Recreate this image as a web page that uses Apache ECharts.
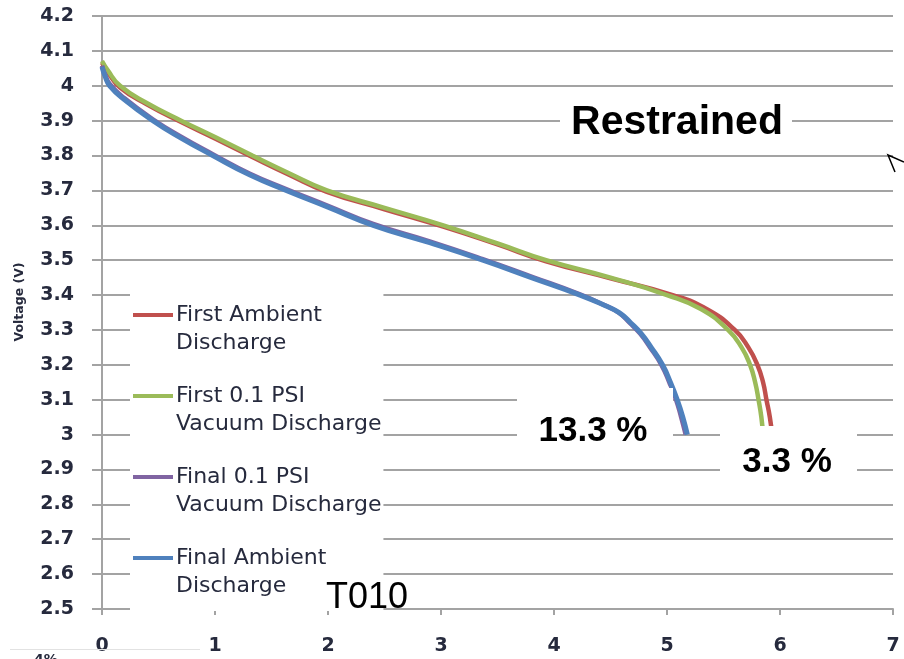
<!DOCTYPE html>
<html>
<head>
<meta charset="utf-8">
<title>Restrained discharge</title>
<script src="https://cdn.jsdelivr.net/npm/echarts@6/dist/echarts.min.js"></script>
<style>
  html, body { margin: 0; padding: 0; background: #fff; }
  #chart { width: 904px; height: 659px; }
</style>
</head>
<body>
<div id="chart"></div>
<script>
// Capacity (x) and cell voltage (V) for each discharge run
const firstAmbientX = [0, 0.05, 0.16, 0.4, 0.7, 1.0, 1.33, 1.65, 1.99, 2.5, 3.02, 3.5, 3.93, 4.5, 5.05, 5.35, 5.60, 5.72, 5.80, 5.85, 5.88, 5.91, 5.93];
const firstAmbientV = [4.066, 4.04, 3.995, 3.946, 3.896, 3.849, 3.796, 3.746, 3.696, 3.646, 3.596, 3.545, 3.497, 3.448, 3.40, 3.36, 3.30, 3.25, 3.20, 3.15, 3.10, 3.05, 3.00];

const firstVacuumX = [0, 0.05, 0.16, 0.4, 0.7, 1.0, 1.33, 1.65, 1.99, 2.5, 3.02, 3.5, 3.93, 4.5, 5.0, 5.3, 5.54, 5.66, 5.735, 5.78, 5.81, 5.835, 5.85];
const firstVacuumV = [4.071, 4.045, 4.0, 3.95, 3.9, 3.853, 3.80, 3.75, 3.70, 3.65, 3.60, 3.548, 3.50, 3.45, 3.40, 3.36, 3.30, 3.25, 3.20, 3.15, 3.10, 3.05, 3.00];

const finalVacuumX = [0, 0.03, 0.068, 0.2, 0.45, 0.7, 0.98, 1.31, 1.63, 2.0, 2.40, 2.9, 3.37, 3.8, 4.23, 4.44, 4.57, 4.67, 4.76, 4.85, 4.95, 5.02, 5.08, 5.125, 5.165];
const finalVacuumV = [4.058, 4.03, 4.005, 3.964, 3.904, 3.854, 3.804, 3.748, 3.704, 3.656, 3.604, 3.554, 3.503, 3.453, 3.402, 3.372, 3.35, 3.32, 3.29, 3.25, 3.20, 3.15, 3.10, 3.05, 3.00];

const finalAmbientX = [0, 0.03, 0.068, 0.2, 0.45, 0.7, 0.98, 1.31, 1.63, 2.0, 2.40, 2.9, 3.37, 3.8, 4.23, 4.45, 4.58, 4.68, 4.77, 4.86, 4.96, 5.03, 5.09, 5.14, 5.18];
const finalAmbientV = [4.054, 4.025, 4.0, 3.96, 3.90, 3.85, 3.80, 3.744, 3.70, 3.652, 3.60, 3.55, 3.50, 3.45, 3.40, 3.37, 3.349, 3.32, 3.29, 3.25, 3.20, 3.15, 3.10, 3.05, 3.00];

const seriesNames = [
  'First Ambient\nDischarge',
  'First 0.1 PSI\nVacuum Discharge',
  'Final 0.1 PSI\nVacuum Discharge',
  'Final Ambient\nDischarge'
];
const seriesColors = ['#C0504D', '#9BBB59', '#8064A2', '#4F81BD'];

const voltageTicks = ['2.5', '2.6', '2.7', '2.8', '2.9', '3', '3.1', '3.2', '3.3', '3.4', '3.5', '3.6', '3.7', '3.8', '3.9', '4', '4.1', '4.2'];
const capacityTicks = ['0', '1', '2', '3', '4', '5', '6', '7'];

const lossLabels = ['13.3 %', '3.3 %'];

function pairs(xs, ys) {
  return xs.map((x, i) => [x, ys[i]]);
}

const runs = [
  pairs(firstAmbientX, firstAmbientV),
  pairs(firstVacuumX, firstVacuumV),
  pairs(finalVacuumX, finalVacuumV),
  pairs(finalAmbientX, finalAmbientV)
];

const gridColor = '#a3a3a3';
const labelColor = '#262a3d';
const tickFont = 'DejaVu Sans';
const noteFont = '"Liberation Sans", Arial, sans-serif';

const chart = echarts.init(document.getElementById('chart'), null, { renderer: 'canvas' });

chart.setOption({
  animation: false,
  backgroundColor: '#ffffff',
  grid: { left: 102, right: 11, top: 16, bottom: 50 },
  xAxis: {
    type: 'value',
    min: 0, max: 7, interval: 1,
    axisLine: { show: true, lineStyle: { color: gridColor, width: 2 } },
    axisTick: { show: true, inside: false, length: 6, lineStyle: { color: gridColor, width: 2 } },
    splitLine: { show: false },
    axisLabel: {
      margin: 28,
      color: labelColor,
      fontFamily: tickFont,
      fontWeight: 'bold',
      fontSize: 19,
      formatter: v => capacityTicks[Math.round(v)]
    }
  },
  yAxis: {
    type: 'value',
    min: 2.5, max: 4.2, interval: 0.1,
    axisLine: { show: true, lineStyle: { color: gridColor, width: 2 } },
    axisTick: { show: true, inside: false, length: 10, lineStyle: { color: gridColor, width: 2 } },
    splitLine: { show: true, lineStyle: { color: gridColor, width: 2 } },
    axisLabel: {
      margin: 28,
      color: labelColor,
      fontFamily: tickFont,
      fontWeight: 'bold',
      fontSize: 19,
      formatter: v => voltageTicks[Math.round((v - 2.5) * 10)]
    }
  },
  legend: {
    orient: 'vertical',
    left: 130,
    top: 284,
    backgroundColor: '#ffffff',
    padding: [17, 2, 11, 3],
    itemGap: 25,
    itemWidth: 40,
    itemHeight: 32,
    // bar sits at the top of the icon box so it lines up with the first text line
    icon: 'path://M0,0H40V4H0Z M0,32H40',
    itemStyle: { borderWidth: 0 },
    selectedMode: false,
    textStyle: {
      fontFamily: tickFont,
      fontSize: 22,
      lineHeight: 28,
      color: labelColor,
      padding: [0, 0, 0, -2]
    },
    data: seriesNames
  },
  series: runs.map((data, i) => ({
    name: seriesNames[i],
    type: 'line',
    data: data,
    showSymbol: false,
    smooth: 0.5,
    color: seriesColors[i],
    lineStyle: { color: seriesColors[i], width: i === 3 ? 5 : 4.5 },
    z: 2 + i
  })),
  graphic: [
    {
      type: 'text',
      x: 20, y: 302,
      rotation: Math.PI / 2,
      style: {
        text: 'Voltage (V)',
        font: 'bold 12.5px "DejaVu Sans"',
        fill: labelColor,
        align: 'center',
        verticalAlign: 'middle'
      }
    },
    {
      type: 'rect', z: 50,
      shape: { x: 560, y: 98, width: 232, height: 50 },
      style: { fill: '#ffffff' }
    },
    {
      type: 'text', z: 51,
      x: 677, y: 123,
      style: {
        text: 'Restrained',
        font: 'bold 41px ' + noteFont,
        fill: '#000000',
        align: 'center',
        verticalAlign: 'middle'
      }
    },
    {
      type: 'rect', z: 50,
      shape: { x: 517, y: 388, width: 156, height: 68 },
      style: { fill: '#ffffff' }
    },
    {
      type: 'text', z: 51,
      x: 593, y: 431,
      style: {
        text: lossLabels[0],
        font: 'bold 35px ' + noteFont,
        fill: '#000000',
        align: 'center',
        verticalAlign: 'middle'
      }
    },
    {
      type: 'rect', z: 50,
      shape: { x: 720, y: 426, width: 137, height: 70 },
      style: { fill: '#ffffff' }
    },
    {
      type: 'text', z: 51,
      x: 787, y: 462,
      style: {
        text: lossLabels[1],
        font: 'bold 35px ' + noteFont,
        fill: '#000000',
        align: 'center',
        verticalAlign: 'middle'
      }
    },
    {
      type: 'text', z: 51,
      x: 367, y: 598,
      style: {
        text: 'T010',
        font: '36px ' + noteFont,
        fill: '#000000',
        align: 'center',
        verticalAlign: 'middle'
      }
    },
    {
      type: 'polyline', z: 51,
      shape: { points: [[904, 162], [888, 155], [895, 172]] },
      style: { stroke: '#000000', lineWidth: 1.5, fill: null }
    },
    {
      type: 'line', z: 1,
      shape: { x1: 10, y1: 649.5, x2: 200, y2: 649.5 },
      style: { stroke: '#e2e2e2', lineWidth: 1 }
    },
    {
      type: 'text', z: 51,
      x: 34, y: 653,
      style: {
        text: '4%',
        font: 'bold 14px "DejaVu Sans"',
        fill: labelColor,
        align: 'left',
        verticalAlign: 'top'
      }
    }
  ]
});
</script>
</body>
</html>
